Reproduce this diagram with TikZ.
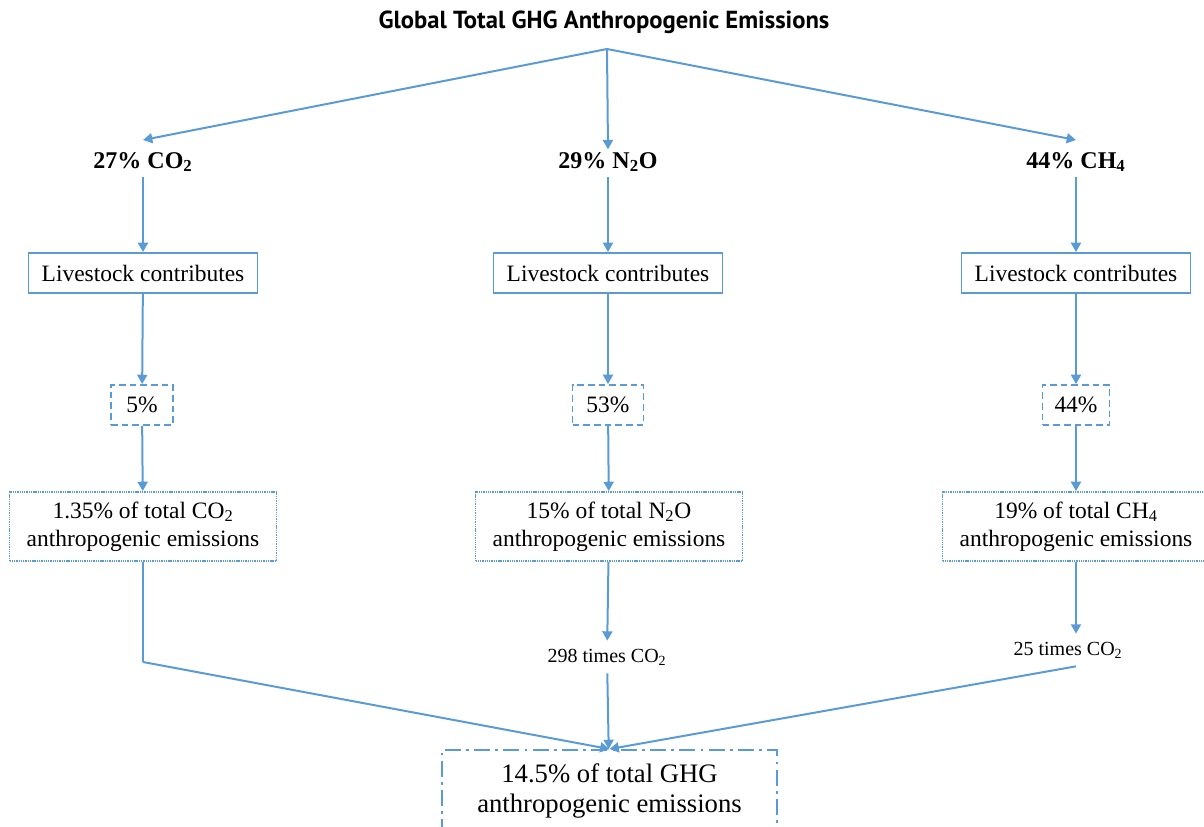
\documentclass[tikz,border=0pt]{standalone}
\usepackage{fontspec}
\setmainfont{Liberation Serif}
\newfontfamily\titlefont{PT Sans}
\usetikzlibrary{arrows.meta}
\definecolor{lineblue}{HTML}{5B9BD5}
\begin{document}
\begin{tikzpicture}[x=0.75pt,y=-0.75pt,>={Triangle[length=7pt,width=7.5pt]}]
        \tikzstyle{gas}=[inner sep=0pt,font=\fontsize{18}{21}\selectfont\bfseries]
        \tikzstyle{livebox}=[draw=lineblue,line width=1.4pt,minimum width=171.75pt,minimum height=30pt,font=\fontsize{17.6}{21}\selectfont]
        \tikzstyle{pctbox}=[draw=lineblue,line width=1.4pt,dash pattern=on 5pt off 3pt,minimum height=30pt,inner xsep=0pt,font=\fontsize{17.6}{21}\selectfont]
        \tikzstyle{sharebox}=[draw=lineblue,line width=1.4pt,dash pattern=on 1pt off 0.7pt,minimum width=200.25pt,minimum height=51.75pt,align=center,font=\fontsize{17.6}{21}\selectfont]
        \tikzstyle{times}=[inner sep=6pt,font=\fontsize{15}{18}\selectfont]
        \tikzstyle{totalbox}=[draw=lineblue,line width=1.4pt,dash pattern=on 12pt off 4pt on 2pt off 4pt,minimum width=251.25pt,minimum height=61.5pt,align=center,font=\fontsize{20}{22.5}\selectfont]
        \tikzstyle{edge}=[draw=lineblue,line width=1.5pt,->]
       \useasboundingbox (0,0) rectangle (1204,827);
       \clip (0,0) rectangle (1204,827);
       \begin{scope}
         \node [font=\titlefont\fontsize{18.5}{22}\bfseries\selectfont] (title) at (604,22) {Global Total GHG Anthropogenic Emissions};
         \coordinate (split) at (607,49);
         % gases
         \node [gas] (gas1) at (143,162) {27\% CO\textsubscript{2}};
         \node [gas] (gas2) at (608,162) {29\% N\textsubscript{2}O};
         \node [gas] (gas3) at (1076,162) {44\% CH\textsubscript{4}};
         \node [livebox] (live1) at (143,273) {Livestock contributes};
         \node [livebox] (live2) at (608,273) {Livestock contributes};
         \node [livebox] (live3) at (1076,273) {Livestock contributes};
         \node [pctbox,minimum width=46.5pt] (pct1) at (142,405) {5\%};
         \node [pctbox,minimum width=53.25pt] (pct2) at (608,405) {53\%};
         \node [pctbox,minimum width=50.25pt] (pct3) at (1076,405) {44\%};
         \node [sharebox] (share1) at (143,526.5) {1.35\% of total CO\textsubscript{2}\\anthropogenic emissions};
         \node [sharebox] (share2) at (609,526.5) {15\% of total N\textsubscript{2}O\\anthropogenic emissions};
         \node [sharebox] (share3) at (1076,526.5) {19\% of total CH\textsubscript{4}\\anthropogenic emissions};
         \node [times] (times2) at (607,657) {298 times CO\textsubscript{2}};
         \node [times] (times3) at (1068,650) {25 times CO\textsubscript{2}};
         \coordinate (turn1) at (143,662);
         \node [totalbox] (total) at (609.5,791) {14.5\% of total GHG\\anthropogenic emissions};
         % connectors
         \path[edge] (split) -- ([yshift=9pt]gas1.north);
         \path[edge] (split) -- ([yshift=2pt]gas2.north);
         \path[edge] (split) -- ([yshift=9pt]gas3.north);
         \path[edge] ([yshift=-4pt]gas1.south) -- (live1);
         \path[edge] ([yshift=-4pt]gas2.south) -- (live2);
         \path[edge] ([yshift=-4pt]gas3.south) -- (live3);
         \path[edge] (live1) -- (pct1);
         \path[edge] (live2) -- (pct2);
         \path[edge] (live3) -- (pct3);
         \path[edge] (pct1) -- (share1);
         \path[edge] (pct2) -- (share2);
         \path[edge] (pct3) -- (share3);
         \path[edge] (share2) -- (times2);
         \path[edge] (share3.south) -- (share3.south |- times3.north);
         \path[edge,-,line width=0.8pt] (share1.south) -- (turn1);
         \path[edge] (turn1) -- (total.north);
         \path[edge] (times2) -- (total);
         \path[edge] (times3.south -| share3.south) -- (total.north);
        \end{scope}
      \end{tikzpicture}
\end{document}
